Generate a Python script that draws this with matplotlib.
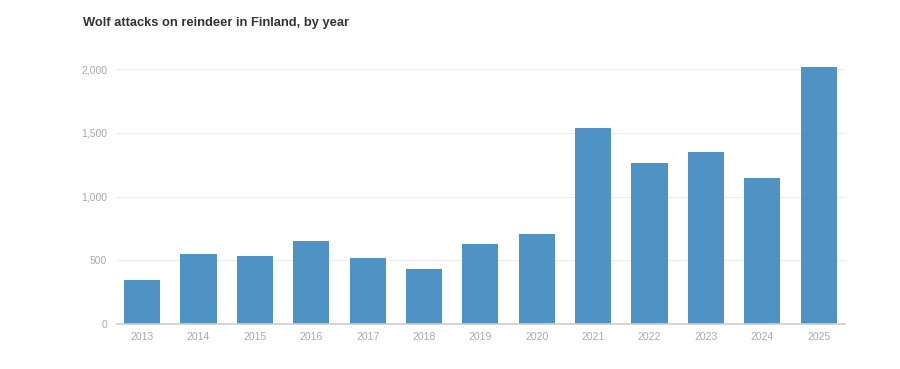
import matplotlib.pyplot as plt

# Wolf attacks on reindeer in Finland
years = ['2013', '2014', '2015', '2016', '2017', '2018', '2019',
         '2020', '2021', '2022', '2023', '2024', '2025']
attacks = [345, 549, 533, 651, 518, 431, 627, 706, 1537, 1262, 1349, 1145, 2013]
y_ticks = [0, 500, 1000, 1500, 2000]
y_labels = ['0', '500', '1,000', '1,500', '2,000']

bar_color = '#4f93c5'
tick_color = '#aaaaaa'

plt.rcParams['font.family'] = ['Liberation Sans', 'DejaVu Sans']

fig = plt.figure(figsize=(9, 3.69), dpi=100)
ax = fig.add_axes([0.1297, 0.122, 0.8093, 0.708])

x = range(len(years))
ax.bar(x, attacks, width=0.64, color=bar_color, zorder=3)

ax.set_xlim(-0.45, len(years) - 1 + 0.47)
ax.set_ylim(0, 2050)
ax.set_xticks(list(x))
ax.set_xticklabels(years)
ax.set_yticks(y_ticks)
ax.set_yticklabels(y_labels)

ax.grid(axis='y', color='#ececec', linewidth=0.8, zorder=0)
for side in ['top', 'right', 'left']:
    ax.spines[side].set_visible(False)
ax.spines['bottom'].set_color('#cccccc')
ax.spines['bottom'].set_linewidth(1.2)
ax.spines['bottom'].set_zorder(4)

ax.tick_params(axis='both', length=0, labelsize=7.5, labelcolor=tick_color)
ax.tick_params(axis='x', pad=6)
ax.tick_params(axis='y', pad=7)

fig.text(83 / 900, 1 - 23 / 369, 'Wolf attacks on reindeer in Finland, by year',
         fontsize=9.3, fontweight='bold', color='#333333', va='center', ha='left')

plt.savefig('out.png', dpi=100)
